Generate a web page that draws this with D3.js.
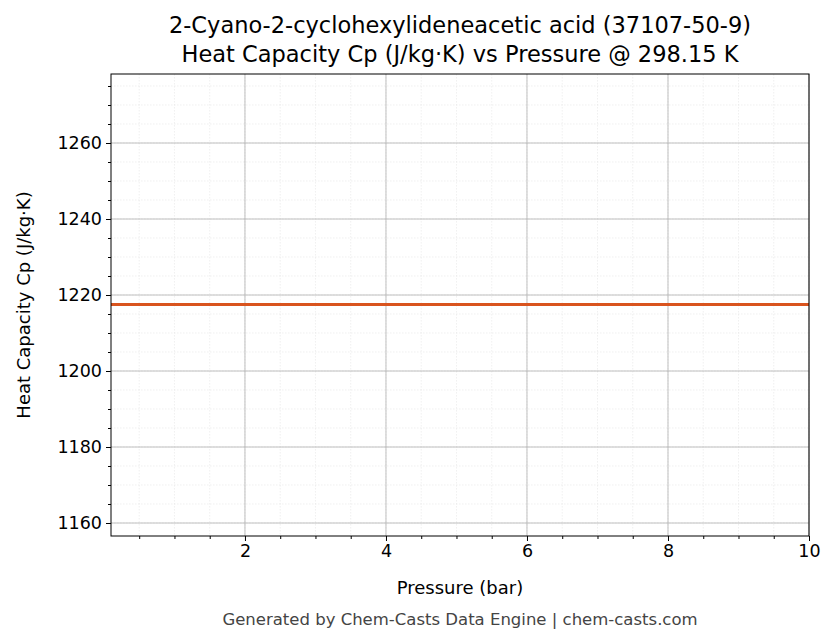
<!DOCTYPE html><html><head><meta charset="utf-8"><script src="https://cdn.jsdelivr.net/npm/d3@7"></script>
<style>body{margin:0;background:#fff}text{font-family:"DejaVu Sans",sans-serif}</style></head><body>
<svg id="c" width="836" height="644"></svg>
<script>
const pressures=[0.1,1,2,3,4,5,6,7,8,9,10];
const cp=[1217.5,1217.5,1217.5,1217.5,1217.5,1217.5,1217.5,1217.5,1217.5,1217.5,1217.5];
const xTicks=[2,4,6,8,10];
const yTicks=[1160,1180,1200,1220,1240,1260];
const svg=d3.select("#c");
const L=111,R=809,T=74,B=536;
const x=d3.scaleLinear().domain([0.1,10]).range([L,R]);
const y=d3.scaleLinear().domain([1156.58,1278.16]).range([B,T]);
const xMinor=d3.range(0.5,10.01,0.5), yMinor=d3.range(1160,1278,5);
const g=svg.append("g");
g.selectAll(".xm").data(xMinor).enter().append("line").attr("x1",d=>x(d)).attr("x2",d=>x(d)).attr("y1",T).attr("y2",B).attr("stroke","#e6e6e6").attr("stroke-width",0.6).attr("stroke-dasharray","1.5,1.5");
g.selectAll(".ym").data(yMinor).enter().append("line").attr("y1",d=>y(d)).attr("y2",d=>y(d)).attr("x1",L).attr("x2",R).attr("stroke","#e6e6e6").attr("stroke-width",0.6).attr("stroke-dasharray","1.5,1.5");
g.selectAll(".xg").data(xTicks).enter().append("line").attr("x1",d=>x(d)).attr("x2",d=>x(d)).attr("y1",T).attr("y2",B).attr("stroke","#b0b0b0").attr("stroke-width",0.8);
g.selectAll(".yg").data(yTicks).enter().append("line").attr("y1",d=>y(d)).attr("y2",d=>y(d)).attr("x1",L).attr("x2",R).attr("stroke","#b0b0b0").attr("stroke-width",0.8);
svg.append("path").datum(pressures.map((p,i)=>[p,cp[i]])).attr("fill","none").attr("stroke","#d9541e").attr("stroke-width",3).attr("d",d3.line().x(d=>x(d[0])).y(d=>y(d[1])));
const xa=svg.append("g").attr("transform",`translate(0,${B})`).call(d3.axisBottom(x).tickValues(xTicks).tickSize(5).tickPadding(4).tickFormat(d3.format("d")));
const xm=svg.append("g").attr("transform",`translate(0,${B})`).call(d3.axisBottom(x).tickValues(xMinor.filter(d=>d%2!==0)).tickSize(3).tickFormat(""));
const ya=svg.append("g").attr("transform",`translate(${L},0)`).call(d3.axisLeft(y).tickValues(yTicks).tickSize(5).tickPadding(4).tickFormat(d3.format("d")));
const ym=svg.append("g").attr("transform",`translate(${L},0)`).call(d3.axisLeft(y).tickValues(yMinor.filter(d=>d%20!==0)).tickSize(3).tickFormat(""));
[xa,xm,ya,ym].forEach(a=>{a.select(".domain").remove();a.selectAll("text").attr("font-size",17.5).attr("fill","#000").attr("font-family","DejaVu Sans");a.selectAll("line").attr("stroke","#000");});
svg.append("rect").attr("x",L).attr("y",T).attr("width",R-L).attr("height",B-T).attr("fill","none").attr("stroke","#000").attr("stroke-width",1);
svg.append("text").attr("x",460).attr("y",33).attr("text-anchor","middle").attr("font-size",22.5).text("2-Cyano-2-cyclohexylideneacetic acid (37107-50-9)");
svg.append("text").attr("x",460).attr("y",62).attr("text-anchor","middle").attr("font-size",22.5).text("Heat Capacity Cp (J/kg·K) vs Pressure @ 298.15 K");
svg.append("text").attr("x",460).attr("y",594).attr("text-anchor","middle").attr("font-size",18).text("Pressure (bar)");
svg.append("text").attr("transform","translate(30,305) rotate(-90)").attr("text-anchor","middle").attr("font-size",18).text("Heat Capacity Cp (J/kg·K)");
svg.append("text").attr("x",460).attr("y",625).attr("text-anchor","middle").attr("font-size",16.5).attr("fill","#444").text("Generated by Chem-Casts Data Engine | chem-casts.com");
</script></body></html>
